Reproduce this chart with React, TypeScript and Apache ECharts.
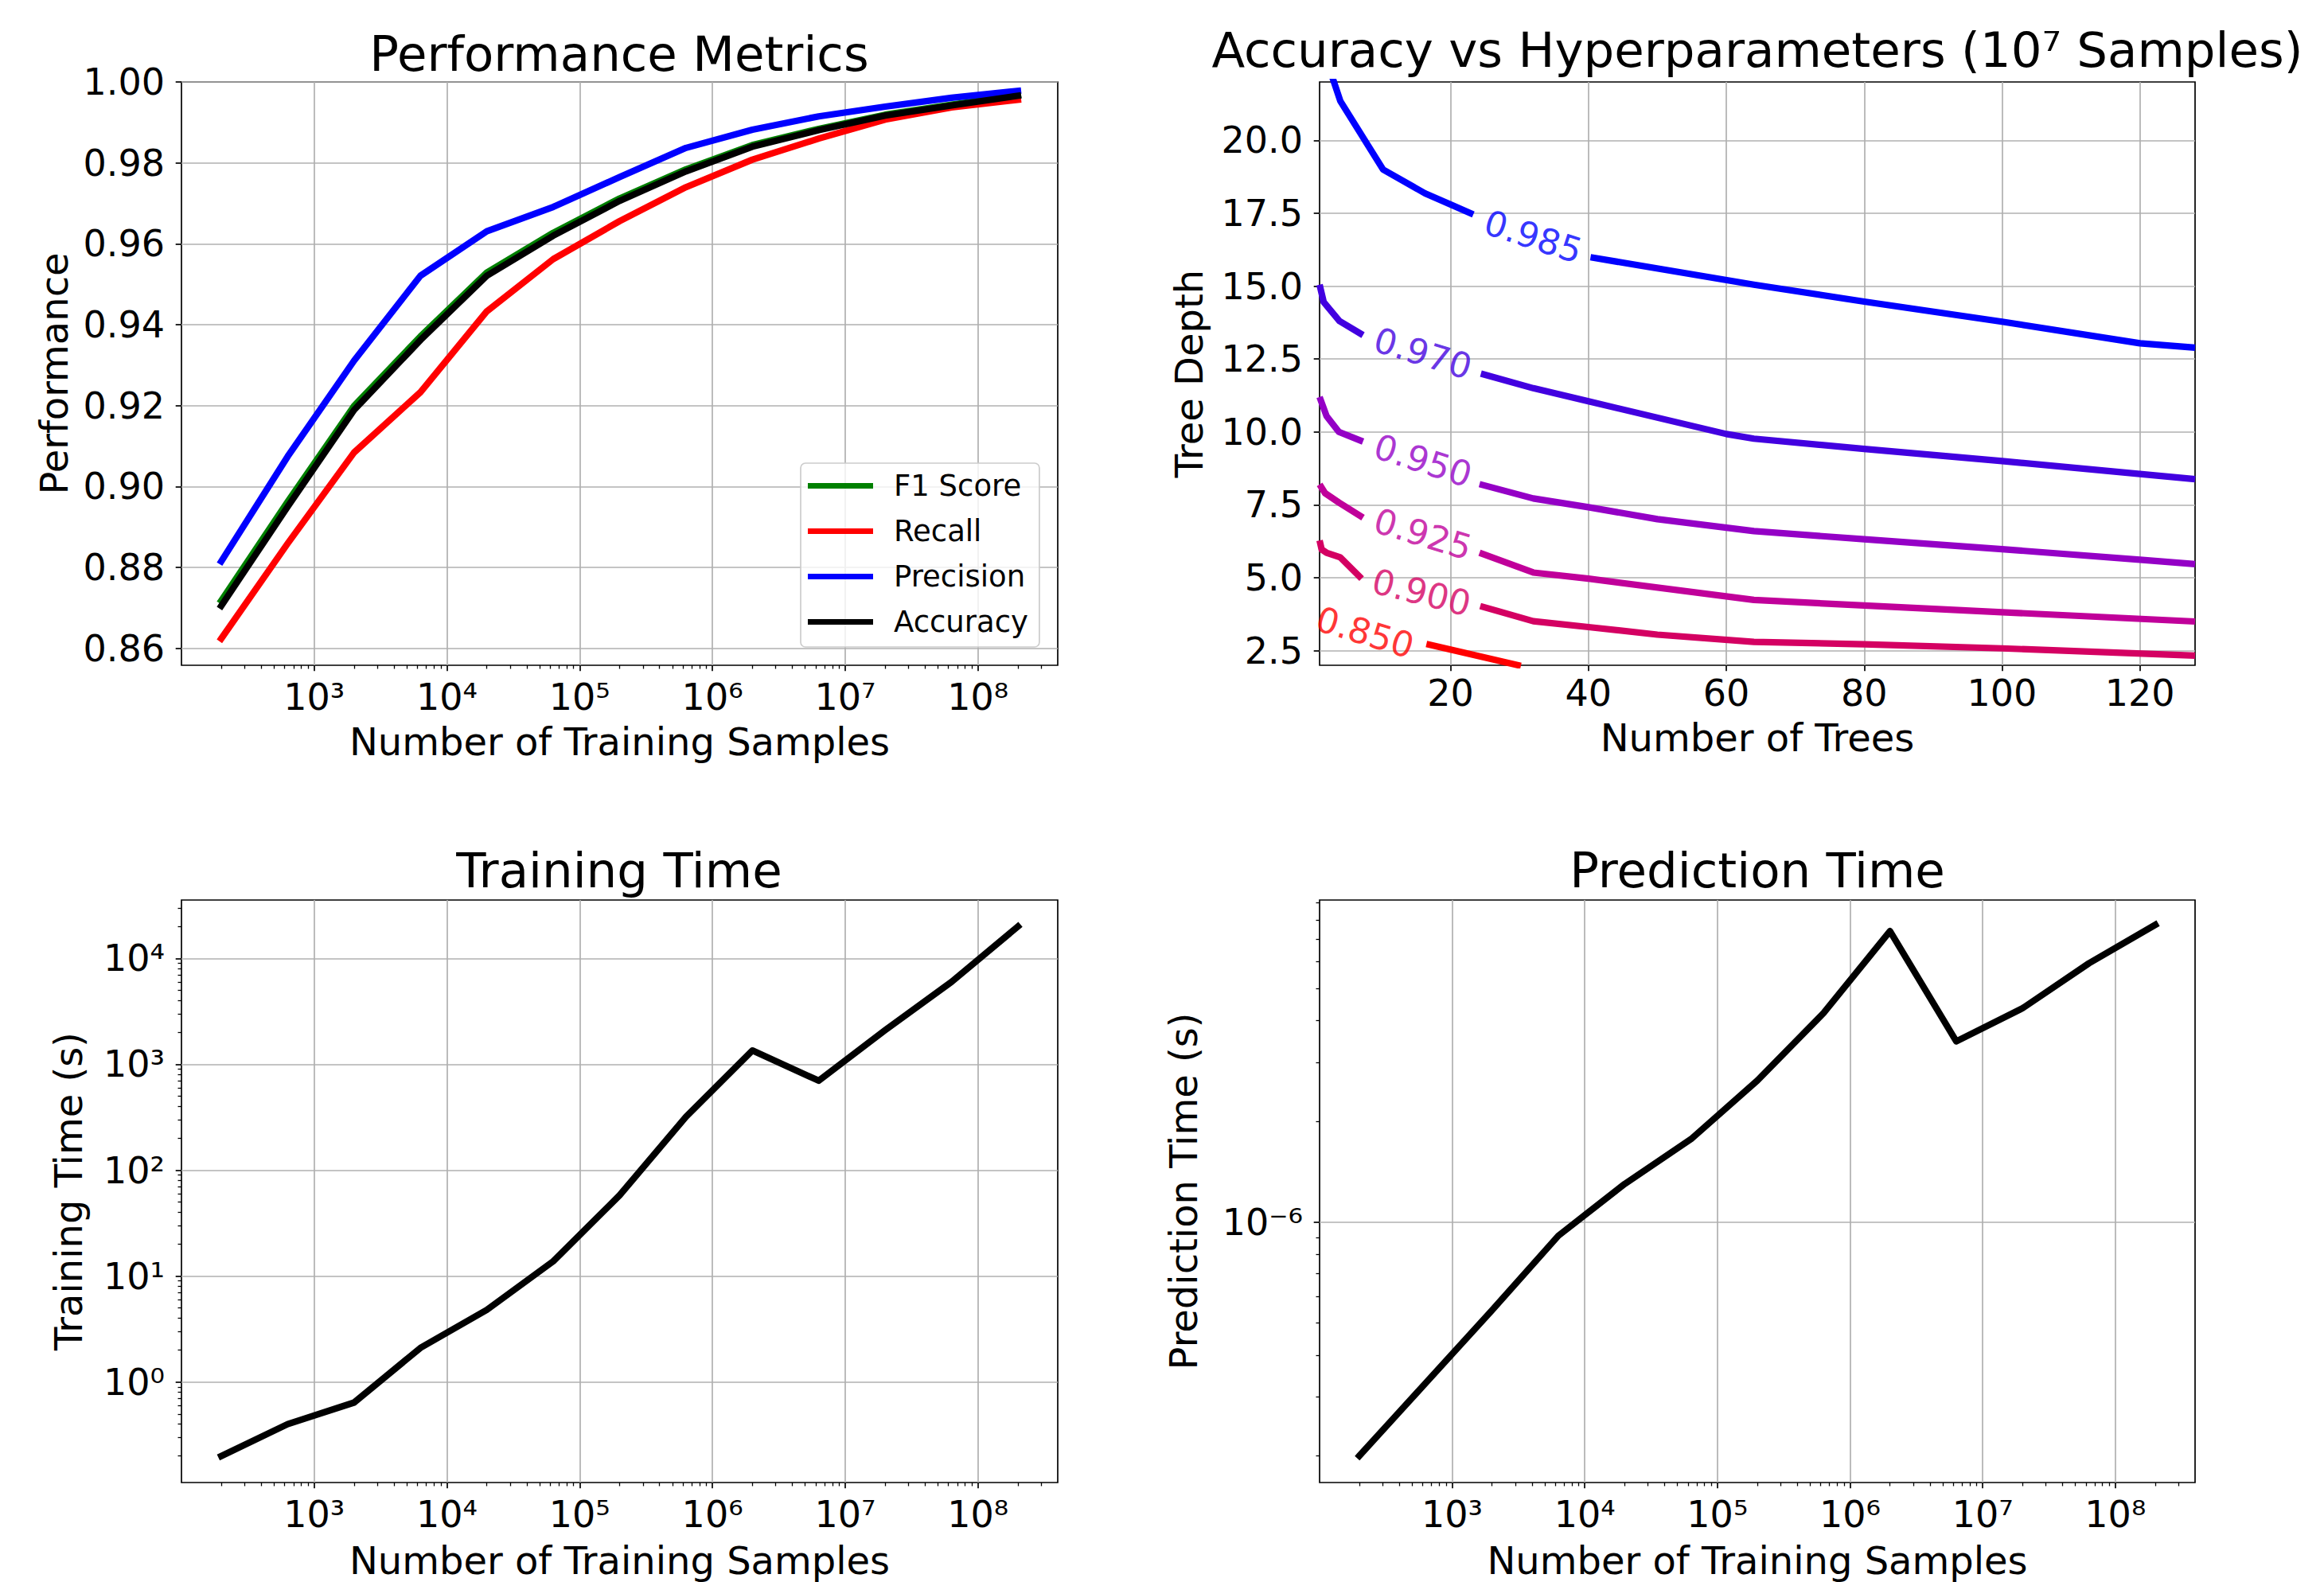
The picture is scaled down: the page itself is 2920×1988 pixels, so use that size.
import React, { useEffect, useRef } from "react";
import * as echarts from "echarts";

const FONT = '"DejaVu Sans"';

// ---------- data ----------
const samples = [200, 632, 2000, 6325, 20000, 63246, 200000, 632456, 2000000, 6324555, 20000000, 63245553, 200000000];
const f1Score = [0.8718, 0.8962, 0.9199, 0.9371, 0.9529, 0.9627, 0.9712, 0.9784, 0.9844, 0.9884, 0.9919, 0.9944, 0.9967];
const recall = [0.8624, 0.8859, 0.9084, 0.9233, 0.9433, 0.9562, 0.9656, 0.974, 0.9808, 0.986, 0.9907, 0.9937, 0.9956];
const precision = [0.8815, 0.9074, 0.9311, 0.9521, 0.9631, 0.9691, 0.9765, 0.9837, 0.9882, 0.9915, 0.9939, 0.9961, 0.9978];
const accuracy = [0.8705, 0.895, 0.9189, 0.9362, 0.9521, 0.962, 0.9706, 0.9779, 0.984, 0.9881, 0.9917, 0.9942, 0.9966];
const trainingTime = [0.2, 0.4, 0.64, 2.1, 4.8, 13.8, 58, 320, 1350, 700, 2100, 6000, 20000];
const predictionTime = [2.0e-7, 3.3e-7, 5.45e-7, 9.1e-7, 1.3e-6, 1.77e-6, 2.65e-6, 4.22e-6, 7.41e-6, 3.47e-6, 4.36e-6, 5.94e-6, 7.74e-6];

// contour lines (Number of Trees, Tree Depth), split where the inline label sits
const contour985a = [[2.8, 22.2], [4, 21.35], [10.2, 19.0], [16.3, 18.18], [23.3, 17.46]];
const contour985b = [[40.3, 15.99], [64, 15.05], [80, 14.47], [100, 13.78], [120, 13.04], [128, 12.89]];
const contour970a = [[1, 15.05], [1.6, 14.45], [3.9, 13.8], [7.3, 13.32]];
const contour970b = [[24.4, 12.0], [32, 11.5], [40, 11.05], [60, 9.93], [64, 9.77], [80, 9.42], [100, 9.0], [120, 8.56], [128, 8.38]];
const contour950a = [[1, 11.2], [2, 10.55], [3.8, 10.0], [7.3, 9.67]];
const contour950b = [[24.2, 8.21], [32, 7.72], [40, 7.42], [50, 7.01], [64, 6.6], [80, 6.32], [100, 5.98], [120, 5.62], [128, 5.47]];
const contour925a = [[1, 8.2], [1.8, 7.9], [3.8, 7.58], [7.3, 7.06]];
const contour925b = [[24.2, 5.86], [32, 5.18], [40, 4.97], [64, 4.24], [80, 4.05], [100, 3.82], [128, 3.5]];
const contour900a = [[1, 6.28], [1.3, 5.97], [2, 5.86], [4, 5.7], [7.1, 4.97]];
const contour900b = [[24.3, 4.03], [32, 3.51], [40, 3.31], [50, 3.05], [64, 2.8], [80, 2.72], [100, 2.58], [128, 2.33]];
const contour850b = [[16.5, 2.73], [30.2, 1.98]];

const contourLevels = ["0.985", "0.970", "0.950", "0.925", "0.900", "0.850"];
const contourLabelPos = [[32.0, 16.7], [16.0, 12.7], [16.0, 9.02], [16.0, 6.5], [15.8, 4.5], [7.6, 3.13]];

// tick values
const perfTicks = [0.86, 0.88, 0.9, 0.92, 0.94, 0.96, 0.98, 1.0];
const sampleExponents = [3, 4, 5, 6, 7, 8];
const trainExponents = [0, 1, 2, 3, 4];
const predExponents = [-6];
const treeTicks = [20, 40, 60, 80, 100, 120];
const depthTicks = [2.5, 5, 7.5, 10, 12.5, 15, 17.5, 20];

// ---------- styles ----------
const contourColors = ["#0000ff", "#4200e0", "#9400c6", "#c0009a", "#d40062", "#ff0000"];
const contourLabelAngle = [-18, -17, -18, -17, -14, -17];
const LINE_W = 8.2;

const SUP: Record<string, string> = {
  "0": "\u2070", "1": "\u00b9", "2": "\u00b2", "3": "\u00b3", "4": "\u2074",
  "5": "\u2075", "6": "\u2076", "7": "\u2077", "8": "\u2078", "9": "\u2079", "-": "\u207b",
};
const fmtPow = (v: number) =>
  "10" + String(Math.round(v)).split("").map((c) => SUP[c]).join("");

function minorLogTicks(lo: number, hi: number) {
  const out: number[] = [];
  for (let d = Math.floor(lo); d <= Math.ceil(hi); d++) {
    for (let k = 2; k <= 9; k++) {
      const v = d + Math.log10(k);
      if (v > lo && v < hi) out.push(v);
    }
  }
  return out;
}

const majorTick = { show: true, inside: false, length: 7.3, lineStyle: { color: "#000", width: 1.7 } };
const minorTickStyle = { show: true, inside: false, length: 4.5, lineStyle: { color: "#000", width: 1.3 } };
const gridLine = { show: true, lineStyle: { color: "#b0b0b0", width: 1.7 } };
const tickFont = { color: "#000", fontFamily: FONT, fontSize: 46 };
const nameFont = { color: "#000", fontFamily: FONT, fontSize: 48 };

function majorAxis(o: any) {
  return {
    type: "value",
    gridIndex: o.grid,
    min: o.min,
    max: o.max,
    position: o.position,
    name: o.name,
    nameLocation: "middle",
    nameGap: o.nameGap,
    nameMoveOverlap: false,
    nameTextStyle: nameFont,
    axisLine: { show: false, onZero: false },
    axisTick: { ...majorTick, customValues: o.ticks },
    axisLabel: { ...tickFont, margin: o.margin, customValues: o.ticks, formatter: o.fmt },
    splitLine: gridLine,
    minorTick: { show: false },
    minorSplitLine: { show: false },
  };
}
function minorAxis(o: any) {
  return {
    type: "value",
    gridIndex: o.grid,
    min: o.min,
    max: o.max,
    position: o.position,
    axisLine: { show: false, onZero: false },
    axisTick: { ...minorTickStyle, customValues: minorLogTicks(o.min, o.max) },
    axisLabel: { show: false },
    splitLine: { show: false },
  };
}

const X_LO = 2.001;
const X_HI = 8.601;
const TT_LO = -0.949;
const TT_HI = 4.551;
const PT_LO = -6.779;
const PT_HI = -5.037;

const gridBox = { show: true, borderColor: "#000", borderWidth: 1.7, backgroundColor: "transparent", containLabel: false, outerBoundsMode: "none" };

function lineSeries(name: string, xi: number, yi: number, data: number[][], color: string) {
  return {
    name,
    type: "line",
    xAxisIndex: xi,
    yAxisIndex: yi,
    data,
    symbol: "none",
    showSymbol: false,
    silent: true,
    lineStyle: { color, width: LINE_W, cap: "square", join: "round" },
    itemStyle: { color },
    emphasis: { disabled: true },
  };
}

function contourSeries(data: number[][], color: string) {
  return {
    type: "line",
    xAxisIndex: 2,
    yAxisIndex: 1,
    data,
    symbol: "none",
    showSymbol: false,
    silent: true,
    lineStyle: { color, width: LINE_W, cap: "butt", join: "round" },
    itemStyle: { color },
    emphasis: { disabled: true },
  };
}

const titleText = (text: string, x: number, y: number) => ({
  type: "text",
  x,
  y,
  silent: true,
  style: {
    text,
    fill: "#000",
    font: `61px ${FONT}`,
    fontSize: 61,
    fontFamily: FONT,
    align: "center",
    verticalAlign: "middle",
    textAlign: "center",
    textVerticalAlign: "middle",
  },
});

const option: any = {
  animation: false,
  backgroundColor: "#fff",
  textStyle: { fontFamily: FONT },
  grid: [
    { ...gridBox, left: 228, top: 103, width: 1101, height: 733 },
    { ...gridBox, left: 1658, top: 103, width: 1100, height: 733 },
    { ...gridBox, left: 228, top: 1131, width: 1101, height: 732 },
    { ...gridBox, left: 1658, top: 1131, width: 1100, height: 732 },
  ],
  xAxis: [
    majorAxis({ grid: 0, min: X_LO, max: X_HI, position: "bottom", name: "Number of Training Samples", nameGap: 72, ticks: sampleExponents, margin: 17, fmt: fmtPow }),
    minorAxis({ grid: 0, min: X_LO, max: X_HI, position: "bottom" }),
    majorAxis({ grid: 1, min: 1, max: 128, position: "bottom", name: "Number of Trees", nameGap: 67, ticks: treeTicks, margin: 12, fmt: (v: number) => String(Math.round(v)) }),
    majorAxis({ grid: 2, min: X_LO, max: X_HI, position: "bottom", name: "Number of Training Samples", nameGap: 74, ticks: sampleExponents, margin: 17, fmt: fmtPow }),
    minorAxis({ grid: 2, min: X_LO, max: X_HI, position: "bottom" }),
    majorAxis({ grid: 3, min: X_LO, max: X_HI, position: "bottom", name: "Number of Training Samples", nameGap: 74, ticks: sampleExponents, margin: 17, fmt: fmtPow }),
    minorAxis({ grid: 3, min: X_LO, max: X_HI, position: "bottom" }),
  ],
  yAxis: [
    majorAxis({ grid: 0, min: 0.8558, max: 1.0, position: "left", name: "Performance", nameGap: 136, ticks: perfTicks, margin: 21, fmt: (v: number) => v.toFixed(2) }),
    majorAxis({ grid: 1, min: 2, max: 22, position: "left", name: "Tree Depth", nameGap: 140, ticks: depthTicks, margin: 21, fmt: (v: number) => v.toFixed(1) }),
    majorAxis({ grid: 2, min: TT_LO, max: TT_HI, position: "left", name: "Training Time (s)", nameGap: 118, ticks: trainExponents, margin: 21, fmt: fmtPow }),
    minorAxis({ grid: 2, min: TT_LO, max: TT_HI, position: "left" }),
    majorAxis({ grid: 3, min: PT_LO, max: PT_HI, position: "left", name: "Prediction Time (s)", nameGap: 147, ticks: predExponents, margin: 21, fmt: fmtPow }),
    minorAxis({ grid: 3, min: PT_LO, max: PT_HI, position: "left" }),
  ],
  legend: {
    data: ["F1 Score", "Recall", "Precision", "Accuracy"],
    orient: "vertical",
    left: 1006,
    top: 582,
    icon: "rect",
    itemWidth: 82,
    itemHeight: 7,
    itemGap: 20,
    padding: [10, 14, 13, 9],
    backgroundColor: "rgba(255,255,255,0.8)",
    borderColor: "#cccccc",
    borderWidth: 1.7,
    borderRadius: 6,
    selectedMode: false,
    textStyle: { color: "#000", fontFamily: FONT, fontSize: 37, lineHeight: 37, padding: [0, 0, 0, 21] },
  },
  graphic: [
    titleText("Performance Metrics", 778, 67),
    titleText("Accuracy vs Hyperparameters (10\u2077 Samples)", 2208, 62),
    titleText("Training Time", 778, 1093),
    titleText("Prediction Time", 2208, 1093),
  ],
  series: [
    lineSeries("F1 Score", 0, 0, samples.map((s, i) => [Math.log10(s), f1Score[i]]), "#008000"),
    lineSeries("Recall", 0, 0, samples.map((s, i) => [Math.log10(s), recall[i]]), "#ff0000"),
    lineSeries("Precision", 0, 0, samples.map((s, i) => [Math.log10(s), precision[i]]), "#0000ff"),
    lineSeries("Accuracy", 0, 0, samples.map((s, i) => [Math.log10(s), accuracy[i]]), "#000000"),

    contourSeries(contour985a, contourColors[0]),
    contourSeries(contour985b, contourColors[0]),
    contourSeries(contour970a, contourColors[1]),
    contourSeries(contour970b, contourColors[1]),
    contourSeries(contour950a, contourColors[2]),
    contourSeries(contour950b, contourColors[2]),
    contourSeries(contour925a, contourColors[3]),
    contourSeries(contour925b, contourColors[3]),
    contourSeries(contour900a, contourColors[4]),
    contourSeries(contour900b, contourColors[4]),
    contourSeries(contour850b, contourColors[5]),
    {
      type: "scatter",
      xAxisIndex: 2,
      yAxisIndex: 1,
      symbol: "circle",
      symbolSize: 1,
      silent: true,
      clip: false,
      itemStyle: { color: "rgba(0,0,0,0)" },
      label: { show: true, position: "inside", fontFamily: FONT, fontSize: 44, align: "center", verticalAlign: "middle" },
      data: contourLabelPos.map((p, i) => ({
        value: p,
        label: { show: true, formatter: contourLevels[i], color: contourColors[i], rotate: contourLabelAngle[i] },
      })),
    },

    lineSeries("Training Time", 3, 2, samples.map((s, i) => [Math.log10(s), Math.log10(trainingTime[i])]), "#000000"),
    lineSeries("Prediction Time", 5, 4, samples.map((s, i) => [Math.log10(s), Math.log10(predictionTime[i])]), "#000000"),
  ],
};

export default function App() {
  const ref = useRef<HTMLDivElement>(null);
  useEffect(() => {
    if (!ref.current) return;
    const chart = echarts.init(ref.current, null, { renderer: "svg" });
    chart.setOption(option);
    return () => chart.dispose();
  }, []);
  return (
    <div
      ref={ref}
      style={{ position: "fixed", left: 0, top: 0, width: 2920, height: 1988, background: "#fff" }}
    />
  );
}
